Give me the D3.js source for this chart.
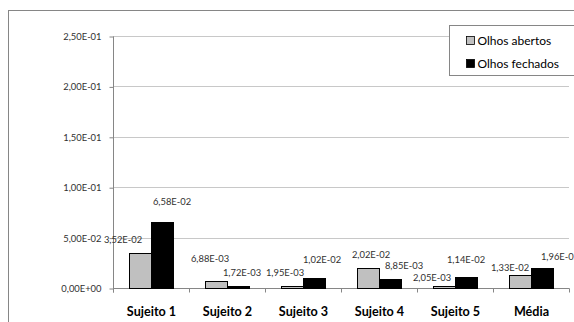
<!DOCTYPE html>
<html>
<head>
<meta charset="utf-8">
<script src="https://cdn.jsdelivr.net/npm/d3@7"></script>
<style>
  html, body { margin: 0; padding: 0; background: #fff; }
  svg { display: block; }
  text { font-family: Lato, "Open Sans", sans-serif; }
</style>
</head>
<body>
<svg id="chart" width="574" height="322"></svg>
<script>
// Categories and series values
const categories = ["Sujeito 1", "Sujeito 2", "Sujeito 3", "Sujeito 4", "Sujeito 5", "Média"];
const seriesNames = ["Olhos abertos", "Olhos fechados"];
const olhosAbertos = [3.52e-2, 6.88e-3, 1.95e-3, 2.02e-2, 2.05e-3, 1.33e-2];
const olhosFechados = [6.58e-2, 1.72e-3, 1.02e-2, 8.85e-3, 1.14e-2, 1.96e-2];
const yTicks = [0, 0.05, 0.10, 0.15, 0.20, 0.25];
const seriesColors = ["#c0c0c0", "#000000"];

// Hand placement of the value labels (dx, dy in px from the default spot above each bar)
const labelNudgeAbertos = [[-17, 0], [-6, -9], [-7, 0], [3, 0], [-12, 5], [-10, 6]];
const labelNudgeFechados = [[10, -7], [4, 0], [8, -5], [14, 0], [0, -4], [18, 2]];

const svg = d3.select("#chart");

const margin = { left: 113, top: 36 };
const plotRight = 569, plotBottom = 288;

// Outer chart frame
svg.append("rect")
  .attr("x", 8.5).attr("y", 10.5)
  .attr("width", 600).attr("height", 400)
  .attr("fill", "#fff").attr("stroke", "#868686").attr("stroke-width", 1);

const x = d3.scaleBand().domain(categories).range([margin.left, plotRight]);
const y = d3.scaleLinear().domain([0, 0.25]).range([plotBottom, margin.top]);
const barW = 22;
const xs = d3.scaleBand().domain(seriesNames).range([0, barW * 2]);

// "3,52E-02" style formatting
function sci(v) {
  if (v === 0) return "0,00E+00";
  let e = Math.floor(Math.log10(Math.abs(v)));
  let ms = (v / Math.pow(10, e)).toFixed(2);
  if (parseFloat(ms) >= 10) { e += 1; ms = (v / Math.pow(10, e)).toFixed(2); }
  const sign = e < 0 ? "-" : "+";
  const ee = String(Math.abs(e)).padStart(2, "0");
  return ms.replace(".", ",") + "E" + sign + ee;
}

// Horizontal gridlines
svg.append("g")
  .selectAll("line")
  .data(yTicks.filter(d => d > 0))
  .join("line")
  .attr("x1", margin.left).attr("x2", plotRight)
  .attr("y1", d => Math.round(y(d)) + 0.5).attr("y2", d => Math.round(y(d)) + 0.5)
  .attr("stroke", "#c8c8c8").attr("stroke-width", 1);

// Y axis
const yAxis = d3.axisLeft(y).tickValues(yTicks).tickSize(4).tickPadding(8).tickFormat(sci);
const gy = svg.append("g").attr("transform", `translate(${margin.left + 0.5},0.5)`).call(yAxis);
gy.select(".domain").attr("stroke", "#868686").attr("d", `M-0,${y(0.25)}V${plotBottom + 4}`);
gy.selectAll(".tick line").attr("stroke", "#868686");
gy.selectAll(".tick text")
  .attr("fill", "#303030").attr("font-size", "9.4px")
  .attr("font-family", "Lato, sans-serif");

// X axis: baseline with tick marks on category boundaries
const gx = svg.append("g").attr("transform", `translate(0.5,${plotBottom + 0.5})`);
gx.append("line").attr("x1", margin.left).attr("x2", plotRight)
  .attr("stroke", "#868686");
const boundaries = categories.map(c => x(c)).concat([plotRight]);
gx.selectAll("line.tk").data(boundaries).join("line").attr("class", "tk")
  .attr("x1", d => Math.round(d)).attr("x2", d => Math.round(d))
  .attr("y1", 0).attr("y2", 4).attr("stroke", "#868686");
gx.selectAll("text").data(categories).join("text")
  .attr("x", c => x(c) + x.bandwidth() / 2)
  .attr("y", 27)
  .attr("text-anchor", "middle")
  .attr("font-size", "12.6px").attr("font-weight", "bold").attr("fill", "#000")
  .text(c => c);

// Bars
const seriesData = [olhosAbertos, olhosFechados];
const nudges = [labelNudgeAbertos, labelNudgeFechados];
const gBars = svg.append("g");
seriesData.forEach((vals, si) => {
  const name = seriesNames[si];
  gBars.append("g")
    .selectAll("rect")
    .data(vals)
    .join("rect")
    .attr("x", (d, i) => Math.round(x(categories[i]) + (x.bandwidth() - barW * 2) / 2 + xs(name)) + 0.5)
    .attr("y", d => Math.round(y(d)) + 0.5)
    .attr("width", barW)
    .attr("height", d => plotBottom - Math.round(y(d)))
    .attr("fill", seriesColors[si])
    .attr("stroke", "#000").attr("stroke-width", 1);

  // Value labels
  gBars.append("g")
    .selectAll("text")
    .data(vals)
    .join("text")
    .attr("x", (d, i) => x(categories[i]) + (x.bandwidth() - barW * 2) / 2 + xs(name) + barW / 2 + nudges[si][i][0])
    .attr("y", (d, i) => y(d) - 10 + nudges[si][i][1])
    .attr("text-anchor", "middle")
    .attr("font-size", "9.4px").attr("fill", "#303030")
    .text(d => sci(d));
});

// Legend
const lg = svg.append("g").attr("transform", "translate(449.5,25.5)");
lg.append("rect").attr("width", 140).attr("height", 50)
  .attr("fill", "#fff").attr("stroke", "#868686");
seriesNames.forEach((n, i) => {
  lg.append("rect").attr("x", 17).attr("y", 11 + i * 23).attr("width", 8).attr("height", 8)
    .attr("fill", seriesColors[i]).attr("stroke", "#000").attr("stroke-width", 0.8);
  lg.append("text").attr("x", 28).attr("y", 19.5 + i * 23)
    .attr("font-size", "12px").attr("fill", "#000").text(n);
});
</script>
</body>
</html>
